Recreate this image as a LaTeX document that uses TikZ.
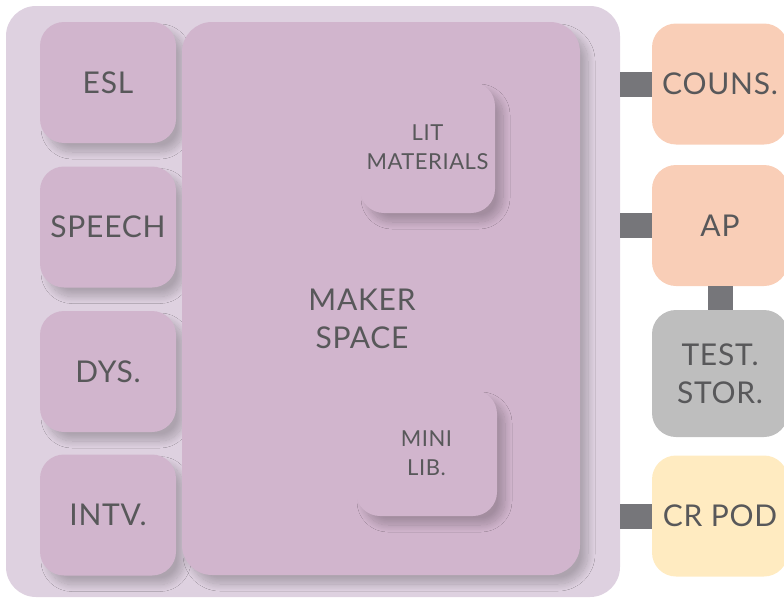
\documentclass[tikz,border=0pt]{standalone}
\usepackage{fontspec}
\setmainfont{Lato}[LetterSpace=2.5]
\usetikzlibrary{shadows.blur}

\definecolor{wingpink}{RGB}{222, 209, 224}
\definecolor{roommauve}{RGB}{209, 181, 205}
\definecolor{roompeach}{RGB}{249, 206, 183}
\definecolor{roomgrey}{RGB}{190, 190, 190}
\definecolor{roomcream}{RGB}{255, 235, 193}
\definecolor{linkgrey}{RGB}{118, 118, 122}
\definecolor{labelgrey}{RGB}{88, 88, 90}

\tikzset{
  room/.style={rounded corners=24pt, minimum width=136pt, minimum height=121pt,
    inner sep=0pt, align=center, text=labelgrey, font=\fontsize{30}{38}\selectfont},
  smallroom/.style={room, font=\fontsize{22}{29}\selectfont},
  lifted/.style={blur shadow={shadow xshift=8pt, shadow yshift=-9pt,
    shadow blur radius=7pt, shadow blur steps=16, shadow opacity=22}},
  link/.style={draw=linkgrey, line width=25pt},
}

\begin{document}
\begin{tikzpicture}[x=1pt, y=-1pt]
  \useasboundingbox (0,0) rectangle (784,597);

  % Outer wing
  \node[fill=wingpink, rounded corners=30pt, minimum width=614pt, minimum height=591pt] (wing) at (313,301.5) {};

  % Left column
  \node[room, lifted, fill=roommauve] (esl) at (108,82.5) {ESL};
  \node[room, lifted, fill=roommauve] (speech) at (108,227) {SPEECH};
  \node[room, lifted, fill=roommauve] (dys) at (108,371.5) {DYS.};
  \node[room, lifted, fill=roommauve] (intv) at (108,515) {INTV.};

  % Maker space with the two inner rooms
  \node[room, lifted, fill=roommauve, rounded corners=30pt, minimum width=398pt, minimum height=553pt] (maker) at (381,298.5) {};
  \node[room, text=labelgrey] (makertext) at (362,319) {MAKER\\SPACE};
  \node[smallroom, lifted, fill=roommauve, minimum width=135pt, minimum height=131pt] (lit) at (427.5,147.5) {LIT\\MATERIALS};
  \node[smallroom, lifted, fill=roommauve, minimum width=141pt, minimum height=126pt] (minilib) at (426.5,453) {MINI\\LIB.};

  % Right column
  \node[room, fill=roompeach] (couns) at (720,84) {COUNS.};
  \node[room, fill=roompeach] (ap) at (720,225.5) {AP};
  \node[room, fill=roomgrey, minimum height=127pt] (test) at (720,373.5) {TEST.\\STOR.};
  \node[room, fill=roomcream] (crpod) at (720,516) {CR POD};

  % Links
  \draw[link] (couns.west -| wing.east) -- (couns.west);
  \draw[link] (ap.west -| wing.east) -- (ap.west);
  \draw[link] (crpod.west -| wing.east) -- (crpod.west);
  \draw[link] (ap.south) -- (test.north);
\end{tikzpicture}
\end{document}
